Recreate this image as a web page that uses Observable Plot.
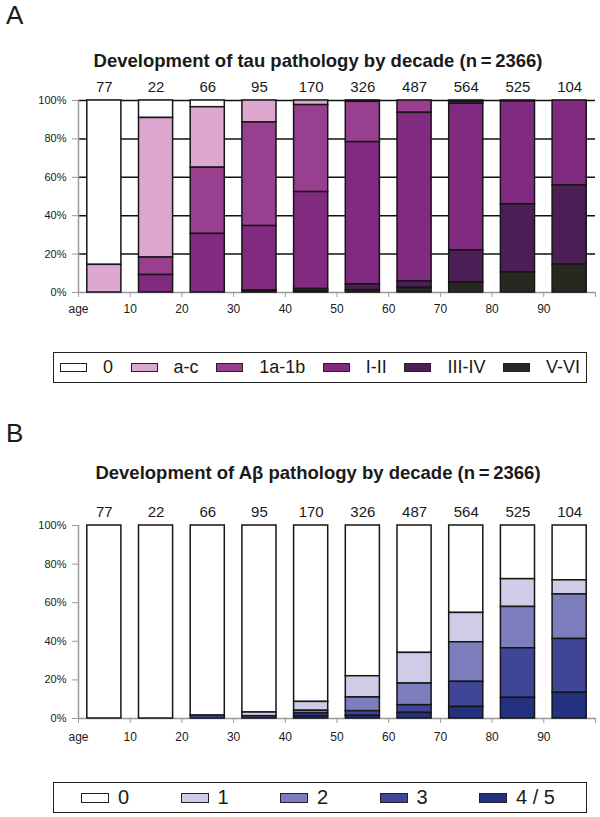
<!DOCTYPE html>
<html>
<head>
<meta charset="utf-8">
<script src="https://cdn.jsdelivr.net/npm/d3@7"></script>
<script src="https://cdn.jsdelivr.net/npm/@observablehq/plot@0.6"></script>
<style>
  html, body { margin: 0; padding: 0; background: #fff; }
  body { width: 600px; height: 817px; position: relative; overflow: hidden;
         font-family: "Liberation Sans", Arial, sans-serif; color: #1a1a1a; }
  .abs { position: absolute; }
  .letter { font-size: 26px; line-height: 30px; left: 6px; }
  .title { font-size: 18.5px; line-height: 18.5px; font-weight: bold; width: 600px; left: 18px; text-align: center; }
  .legend { border: 1.5px solid #222; box-sizing: border-box; display: flex; align-items: center;
            justify-content: space-between; }
  .item { display: flex; align-items: center; }
  .sw { border: 1.3px solid #222; box-sizing: border-box; }
</style>
</head>
<body>
<script>
// ---------- data ----------
const decades = [0, 10, 20, 30, 40, 50, 60, 70, 80, 90];
const counts = [77, 22, 66, 95, 170, 326, 487, 564, 525, 104];
const xTicks = [0, 10, 20, 30, 40, 50, 60, 70, 80, 90, 100];
const yTicks = [0, 20, 40, 60, 80, 100];

// tau pathology (% per decade)
const tauStages = ["0", "a-c", "1a-1b", "I-II", "III-IV", "V-VI"];
const tauColors = ["#ffffff", "#dca8d0", "#983f8f", "#812b80", "#4b1f55", "#282820"];
const tau0     = [85.6, 9.1, 3.5, 0, 0, 0.3, 0, 0, 0, 0];
const tauAC    = [14.4, 72.7, 31.5, 11.4, 2.4, 0.4, 0, 0.7, 0, 0];
const tau1a1b  = [0, 9.1, 34.5, 54.0, 45.3, 21.0, 6.4, 1.0, 0.5, 0];
const tauI_II  = [0, 9.1, 30.5, 33.6, 50.5, 74.1, 87.9, 76.4, 53.6, 44.2];
const tauIII_IV= [0, 0, 0, 0.5, 1.2, 3.0, 3.3, 16.7, 35.5, 41.3];
const tauV_VI  = [0, 0, 0, 0.5, 0.6, 1.2, 2.4, 5.2, 10.4, 14.5];

// Abeta pathology (% per decade)
const abStages = ["0", "1", "2", "3", "4 / 5"];
const abColors = ["#ffffff", "#cecce6", "#7c7dbc", "#3f4697", "#23317f"];
const ab0  = [100, 100, 98.5, 96.9, 91.4, 78.1, 66.0, 45.3, 27.8, 28.4];
const ab1  = [0, 0, 0, 1.9, 4.6, 11.0, 15.9, 15.2, 14.4, 7.3];
const ab2  = [0, 0, 0, 0, 1.4, 7.1, 11.2, 20.5, 21.4, 23.1];
const ab3  = [0, 0, 1.5, 1.2, 1.4, 2.4, 4.0, 13.0, 25.7, 27.9];
const ab45 = [0, 0, 0, 0, 1.2, 1.4, 2.9, 6.0, 10.7, 13.3];

function rowsFor(stages, series) {
  const rows = [];
  stages.forEach((s, i) => series[i].forEach((v, j) => {
    if (v > 0) rows.push({decade: decades[j], stage: s, pct: v});
  }));
  return rows;
}
const countRows = decades.map((d, i) => ({decade: d, n: counts[i]}));

function panel(stages, series, colors, grid, marginBottom, tickPadding) {
  const rows = rowsFor(stages, series);
  return Plot.plot({
    width: 600, height: 250,
    marginTop: 30, marginBottom, marginLeft: 78, marginRight: 5,
    style: {fontFamily: "'Liberation Sans', Arial, sans-serif", background: "transparent", color: "#1a1a1a"},
    x: {type: "linear", domain: [0, 100], axis: null},
    y: {domain: [0, 100], axis: null},
    color: {domain: stages, range: colors},
    marks: [
      grid ? Plot.ruleY([20, 40, 60, 80, 100], {x1: 0, x2: 100, stroke: "#111", strokeWidth: 1.5}) : null,
      Plot.ruleY([0], {x1: 0, x2: 100, stroke: "#999", strokeWidth: 1.5}),
      Plot.ruleX([0], {y1: 0, y2: 100, stroke: "#999", strokeWidth: 1.5}),
      Plot.axisY({ticks: yTicks, tickFormat: d => d + "%", tickSize: 6, tickPadding: 6, fontSize: 11, stroke: "#999", label: null}),
      Plot.axisX({ticks: xTicks, tickFormat: d => d === 0 ? "age" : d === 100 ? "" : d, tickSize: 5, tickPadding, fontSize: 12, stroke: "#999", label: null}),
      Plot.rectY(rows, {x: "decade", interval: 10, y: "pct", fill: "stage",
        order: stages.slice().reverse(), stroke: "#151515", strokeWidth: 1.5,
        insetLeft: 8.8, insetRight: 8.8}),
      Plot.text(countRows, {x: d => d.decade + 5, y: 100, text: "n", dy: -13, fontSize: 15})
    ]
  });
}

function legend(stages, colors, opts) {
  const box = document.createElement("div");
  box.className = "abs legend";
  Object.assign(box.style, {left: "53px", top: opts.top + "px", width: "534px", height: "31px",
    paddingLeft: opts.padL + "px", paddingRight: opts.padR + "px", fontSize: opts.font + "px"});
  stages.forEach((s, i) => {
    const it = document.createElement("div");
    it.className = "item";
    const sw = document.createElement("div");
    sw.className = "sw";
    Object.assign(sw.style, {width: opts.sw + "px", height: opts.swh + "px", background: colors[i], marginRight: opts.gap + "px"});
    const lb = document.createElement("span");
    lb.textContent = s;
    it.appendChild(sw); it.appendChild(lb);
    box.appendChild(it);
  });
  document.body.appendChild(box);
}

function label(cls, text, top) {
  const d = document.createElement("div");
  d.className = "abs " + cls;
  d.style.top = top + "px";
  d.textContent = text;
  document.body.appendChild(d);
}

label("letter", "A", 0);
label("title", "Development of tau pathology by decade (n\u2009=\u20092366)", 52);
const pa = panel(tauStages, [tau0, tauAC, tau1a1b, tauI_II, tauIII_IV, tauV_VI], tauColors, true, 28, 7);
pa.style.position = "absolute"; pa.style.left = "0px"; pa.style.top = "70px";
document.body.appendChild(pa);
legend(tauStages, tauColors, {top: 352, padL: 6, padR: 6, font: 18, sw: 27, swh: 9, gap: 16});

label("letter", "B", 418);
label("title", "Development of A\u03b2 pathology by decade (n\u2009=\u20092366)", 463.5);
const pb = panel(abStages, [ab0, ab1, ab2, ab3, ab45], abColors, false, 27, 9);
pb.style.position = "absolute"; pb.style.left = "0px"; pb.style.top = "495px";
document.body.appendChild(pb);
legend(abStages, abColors, {top: 782, padL: 27, padR: 31, font: 20, sw: 28, swh: 10, gap: 9});
</script>
</body>
</html>
